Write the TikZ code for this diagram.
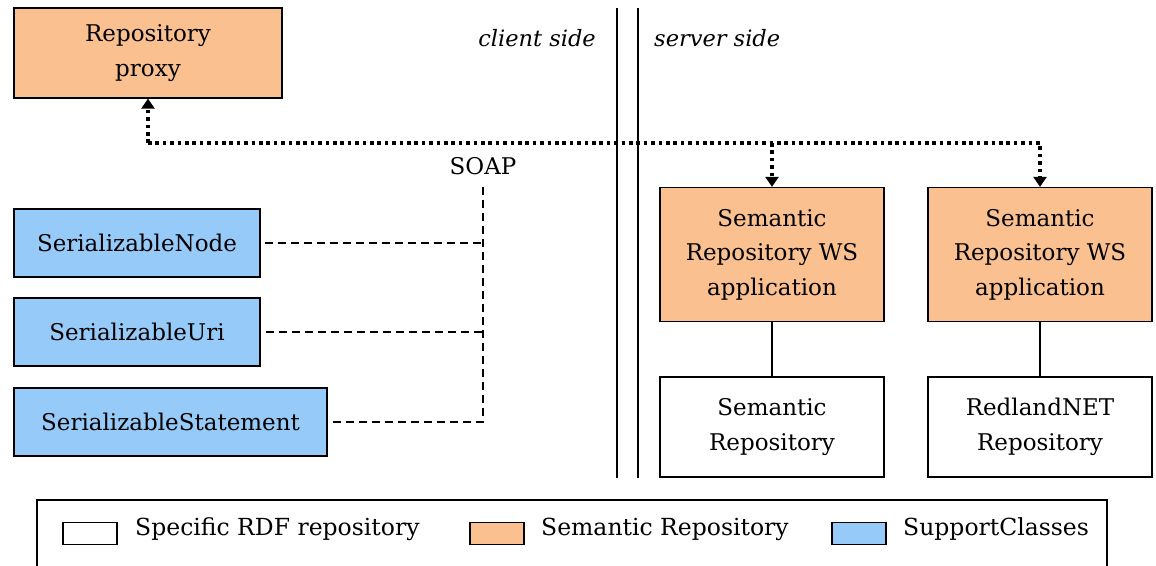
\documentclass[tikz,border=0pt]{standalone}
\usepackage{fontspec}
\setmainfont{DejaVu Serif}
\usetikzlibrary{arrows.meta}
\definecolor{semfill}{RGB}{250,192,143}
\definecolor{supfill}{RGB}{150,202,248}
\begin{document}
\begin{tikzpicture}[x=1pt,y=-1pt,
  every node/.style={font=\fontsize{23}{34.5}\selectfont, inner sep=0pt, align=center},
  box/.style={draw=black, line width=1.3pt, rectangle},
  sembox/.style={box, fill=semfill},
  supbox/.style={box, fill=supfill},
  repbox/.style={box, fill=white},
  dotline/.style={line width=3.6pt, dash pattern=on 3.6pt off 3.8pt,
    -{Triangle[width=13pt,length=10pt]}},
  dashline/.style={line width=1.2pt, dash pattern=on 8pt off 5pt},
  solidline/.style={line width=1.3pt},
  sidelabel/.style={font=\fontsize{22.5}{26}\selectfont\itshape},
  swatch/.style={draw=black, line width=1.3pt, minimum width=54pt, minimum height=22pt},
  legendtext/.style={anchor=west, font=\fontsize{23.5}{26}\selectfont}
]
\useasboundingbox (0,0) rectangle (1156,565);
\fill[white] (0,0) rectangle (1156,565);

% client side
\node[sembox, minimum width=268pt, minimum height=90pt] (proxy) at (148,53) {Repository\\proxy};
\node[supbox, minimum width=246pt, minimum height=68pt] (snode) at (137,243) {SerializableNode};
\node[supbox, minimum width=246pt, minimum height=68pt] (suri) at (137,332) {SerializableUri};
\node[supbox, minimum width=313pt, minimum height=68pt] (sstmt) at (170.5,422) {SerializableStatement};
\node (soap) at (483,166) {SOAP};

% separation between client and server
\draw[solidline] (617,8) -- (617,478);
\draw[solidline] (638,8) -- (638,478);
\node[sidelabel, anchor=east] (client) at (596,38) {client side};
\node[sidelabel, anchor=west] (server) at (654,38) {server side};

% server side
\node[sembox, minimum width=224pt, minimum height=134pt] (ws1) at (772,254.5) {Semantic\\Repository WS\\application};
\node[sembox, minimum width=224pt, minimum height=134pt] (ws2) at (1040,254.5) {Semantic\\Repository WS\\application};
\node[repbox, minimum width=224pt, minimum height=100pt] (rep1) at (772,427) {Semantic\\Repository};
\node[repbox, minimum width=224pt, minimum height=100pt] (rep2) at (1040,427) {RedlandNET\\Repository};

\draw[solidline] (ws1.south) -- (rep1.north);
\draw[solidline] (ws2.south) -- (rep2.north);

% SOAP communication
\coordinate (bus) at (148,143);
\draw[dotline] (bus) -- (proxy.south);
\draw[dotline] (bus) -| (ws2.north);
\draw[dotline] (ws1.north |- bus) -- (ws1.north);

% serializable support classes
\coordinate (soapfoot) at ([yshift=-12pt]soap.south);
\draw[dashline] (soapfoot) -- (soapfoot |- sstmt.east) -- ([xshift=4pt]sstmt.east);
\draw[dashline] ([xshift=4pt]snode.east) -- (snode.east -| soapfoot);
\draw[dashline] ([xshift=5pt]suri.east) -- (suri.east -| soapfoot);

% legend
\draw[line width=1.3pt] (37,500) rectangle (1107,585);
\node[swatch, fill=white] (lw) at (90,533.5) {};
\node[legendtext] (lwt) at (135,529) {Specific RDF repository};
\node[swatch, fill=semfill] (lo) at (497,533.5) {};
\node[legendtext] (lot) at (541,529) {Semantic Repository};
\node[swatch, fill=supfill] (lb) at (859,533.5) {};
\node[legendtext] (lbt) at (903,529) {SupportClasses};
\end{tikzpicture}
\end{document}
